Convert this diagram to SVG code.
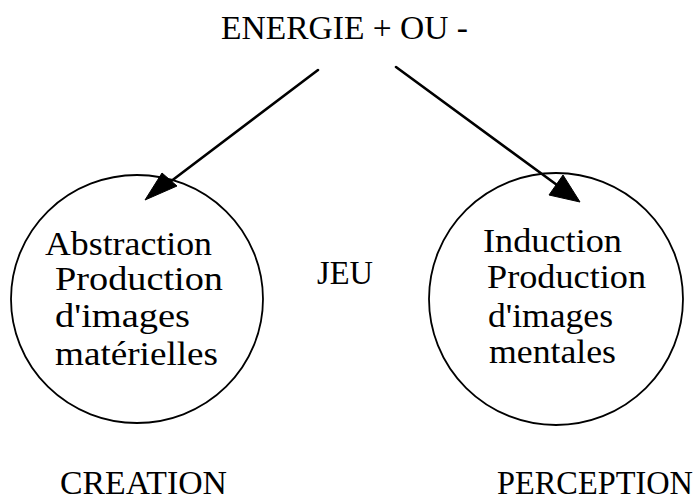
<svg xmlns="http://www.w3.org/2000/svg" width="698" height="503" viewBox="0 0 698 503">
<style>
text { font-family: "Liberation Serif", "Times New Roman", serif; font-size: 33px; fill: #000; }
.ring { fill: none; stroke: #000; stroke-width: 1.8; }
.edge { stroke: #000; stroke-width: 2.6; fill: none; stroke-linecap: round; }
.head { fill: #000; stroke: #000; stroke-width: 1; stroke-linejoin: round; }
</style>
<rect width="698" height="503" fill="#fff"/>
<g id="energie">
<text x="221" y="39" textLength="247" lengthAdjust="spacingAndGlyphs">ENERGIE + OU -</text>
</g>
<g id="creation-node">
<ellipse class="ring" cx="137" cy="299" rx="126" ry="124"/>
<text x="45" y="255" textLength="167" lengthAdjust="spacingAndGlyphs">Abstraction</text>
<text x="55" y="290" textLength="168" lengthAdjust="spacingAndGlyphs">Production</text>
<text x="55" y="327" textLength="135" lengthAdjust="spacingAndGlyphs">d'images</text>
<text x="55" y="365" textLength="163" lengthAdjust="spacingAndGlyphs">matérielles</text>
</g>
<g id="perception-node">
<ellipse class="ring" cx="556" cy="299" rx="127" ry="126"/>
<text x="483" y="252" textLength="139" lengthAdjust="spacingAndGlyphs">Induction</text>
<text x="487" y="288" textLength="159" lengthAdjust="spacingAndGlyphs">Production</text>
<text x="488" y="327" textLength="125" lengthAdjust="spacingAndGlyphs">d'images</text>
<text x="489" y="363" textLength="127" lengthAdjust="spacingAndGlyphs">mentales</text>
</g>
<g id="jeu">
<text x="317" y="284" textLength="56" lengthAdjust="spacingAndGlyphs">JEU</text>
</g>
<g id="creation-label">
<text x="60" y="494" textLength="167" lengthAdjust="spacingAndGlyphs">CREATION</text>
</g>
<g id="perception-label">
<text x="497" y="494" textLength="196" lengthAdjust="spacingAndGlyphs">PERCEPTION</text>
</g>
<g id="connectors">
<line class="edge" x1="318" y1="70" x2="170" y2="182"/>
<polygon class="head" points="162,173 177,186 145,200"/>
<line class="edge" x1="396" y1="67" x2="557" y2="185"/>
<polygon class="head" points="563,175 549,195 580,202"/>
</g>
</svg>
